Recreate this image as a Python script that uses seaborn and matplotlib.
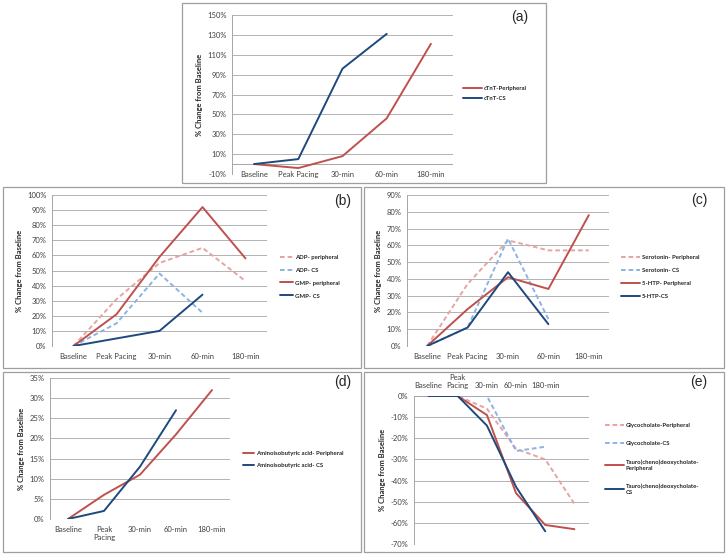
import numpy as np
import pandas as pd
import matplotlib
matplotlib.use("Agg")
import matplotlib.pyplot as plt
import seaborn as sns
from matplotlib.patches import Rectangle

sns.set_style("white")
plt.rcParams["font.family"] = ["Lato", "DejaVu Sans"]

# categories
cats = ["Baseline", "Peak Pacing", "30-min", "60-min", "180-min"]
cats_d = ["Baseline", "Peak\nPacing", "30-min", "60-min", "180-min"]
cats_e = ["Baseline", "Peak\nPacing", "30-min", "60-min", "180-min", ""]

# (a) cTnT
ctnt_peripheral = [0, -4, 8, 46, 121]
ctnt_cs = [0, 5, 96, 131, np.nan]

# (b) ADP / GMP
adp_peripheral = [0, 31, 55, 65, 43]
adp_cs = [0, 15, 48, 22, np.nan]
gmp_peripheral = [0, 21, 59, 92, 58]
gmp_cs = [0, 5, 10, 34, np.nan]

# (c) serotonin / 5-HTP
sero_peripheral = [0, 37, 63, 57, 57]
sero_cs = [0, 11, 64, 16, np.nan]
htp_peripheral = [0, 22, 41, 34, 78]
htp_cs = [0, 11, 44, 13, np.nan]

# (d) aminoisobutyric acid
aiba_peripheral = [0, 6, 11, 21, 32]
aiba_cs = [0, 2, 13, 27, np.nan]

# (e) bile acids
glyco_peripheral = [0, 0, -6, -25, -30, -51]
glyco_cs = [0, 0, 0, -26, -24, np.nan]
tauro_peripheral = [0, 0, -9, -46, -61, -63]
tauro_cs = [0, 0, -14, -43, -64, np.nan]

RED = "#C0504D"
BLUE = "#1F497D"
LRED = "#E6A4A2"
LBLUE = "#8DB3E2"
GRID = "#A6A6A6"
DASH = (0, (2.4, 1.5))

W, H = 727, 554
fig = plt.figure(figsize=(W / 100, H / 100), dpi=100)


def fx(px):
    return px / W


def fy(py):
    return 1 - py / H


def box(x0, y0, x1, y1):
    fig.patches.append(Rectangle((fx(x0), fy(y1)), fx(x1) - fx(x0), fy(y0) - fy(y1),
                                 transform=fig.transFigure, fill=False,
                                 edgecolor="#9E9E9E", lw=0.9))


def panel(rect, series, labels, ylim, ystep, letter, letter_xy, leg,
          top_labels=False, xpad=4, hide_first_grid=False):
    x0, y0, x1, y1 = rect
    ax = fig.add_axes([fx(x0), fy(y1), fx(x1) - fx(x0), fy(y0) - fy(y1)])
    for name, vals, color, ls in series:
        df = pd.DataFrame({"x": np.arange(len(vals)), "y": vals}).dropna()
        sns.lineplot(data=df, x="x", y="y", ax=ax, color=color, linestyle=ls,
                     lw=1.4, label=name)
    ax.set_xlim(-0.5, len(labels) - 0.5)
    ax.set_ylim(*ylim)
    ax.set_yticks(np.arange(ylim[0], ylim[1] + 0.1, ystep))
    ax.yaxis.set_major_formatter(plt.FuncFormatter(lambda v, p: f"{v:.0f}%"))
    ax.set_xticks(np.arange(len(labels)))
    ax.set_xticklabels(labels)
    ax.grid(axis="y", color=GRID, lw=0.6)
    if hide_first_grid:
        ax.get_ygridlines()[0].set_visible(False)
    ax.set_axisbelow(True)
    for s in ["top", "right", "bottom"]:
        ax.spines[s].set_visible(False)
    ax.spines["left"].set_color(GRID)
    ax.spines["left"].set_linewidth(0.7)
    ax.axhline(0, color=GRID, lw=0.7, zorder=0)
    ax.tick_params(axis="both", length=0, labelsize=5.5, colors="#404040", pad=4)
    ax.tick_params(axis="x", pad=xpad)
    if top_labels:
        ax.xaxis.tick_top()
    ax.set_xlabel("")
    ax.set_ylabel("% Change from Baseline", fontsize=5.5, fontweight="bold", labelpad=3)
    hx, hy, hl, sp = leg
    ax.legend(loc="center left", bbox_to_anchor=(fx(hx), fy(hy)), bbox_transform=fig.transFigure,
              frameon=False, handlelength=hl, handletextpad=0.3,
              labelspacing=sp, borderpad=0, borderaxespad=0,
              prop={"weight": "bold", "size": 4.3})
    fig.text(fx(letter_xy[0]), fy(letter_xy[1]), letter, fontsize=10,
             family="Liberation Sans", ha="center", va="center")
    return ax


# panel boxes
box(182, 3, 546, 183)
box(3, 187, 361, 368)
box(364, 187, 724, 368)
box(3, 372, 361, 552)
box(364, 372, 724, 552)

panel((232, 15, 453, 174),
      [("cTnT-Peripheral", ctnt_peripheral, RED, "-"),
       ("cTnT-CS", ctnt_cs, BLUE, "-")],
      cats, (-10, 150), 20, "(a)", (520, 17), (463, 93.5, 3.2, 0.9),
      xpad=-2.5, hide_first_grid=True)

panel((52, 195, 267, 346),
      [("ADP- peripheral", adp_peripheral, LRED, DASH),
       ("ADP- CS", adp_cs, LBLUE, DASH),
       ("GMP- peripheral", gmp_peripheral, RED, "-"),
       ("GMP- CS", gmp_cs, BLUE, "-")],
      cats, (0, 100), 10, "(b)", (343, 201), (280, 276.5, 2.2, 1.3), xpad=5)

panel((407, 195, 609, 346),
      [("Serotonin- Peripheral", sero_peripheral, LRED, DASH),
       ("Serotonin- CS", sero_cs, LBLUE, DASH),
       ("5-HTP- Peripheral", htp_peripheral, RED, "-"),
       ("5-HTP-CS", htp_cs, BLUE, "-")],
      cats, (0, 90), 10, "(c)", (699, 200), (621, 277, 3.2, 1.3), xpad=5)

panel((50, 378, 230, 519),
      [("Aminoisobutyric acid- Peripheral", aiba_peripheral, RED, "-"),
       ("Aminoisobutyric acid- CS", aiba_cs, BLUE, "-")],
      cats_d, (0, 35), 5, "(d)", (343, 382), (243, 459.5, 1.8, 1.2), xpad=5)

panel((414, 396, 589, 544),
      [("Glycocholate-Peripheral", glyco_peripheral, LRED, DASH),
       ("Glycocholate-CS", glyco_cs, LBLUE, DASH),
       ("Tauro(cheno)deoxycholate-\nPeripheral", tauro_peripheral, RED, "-"),
       ("Tauro(cheno)deoxycholate-\nCS", tauro_cs, BLUE, "-")],
      cats_e, (-70, 0), 10, "(e)", (699, 382), (605, 459, 3.2, 2.2),
      top_labels=True, xpad=5)

fig.savefig("out.png", dpi=100)
